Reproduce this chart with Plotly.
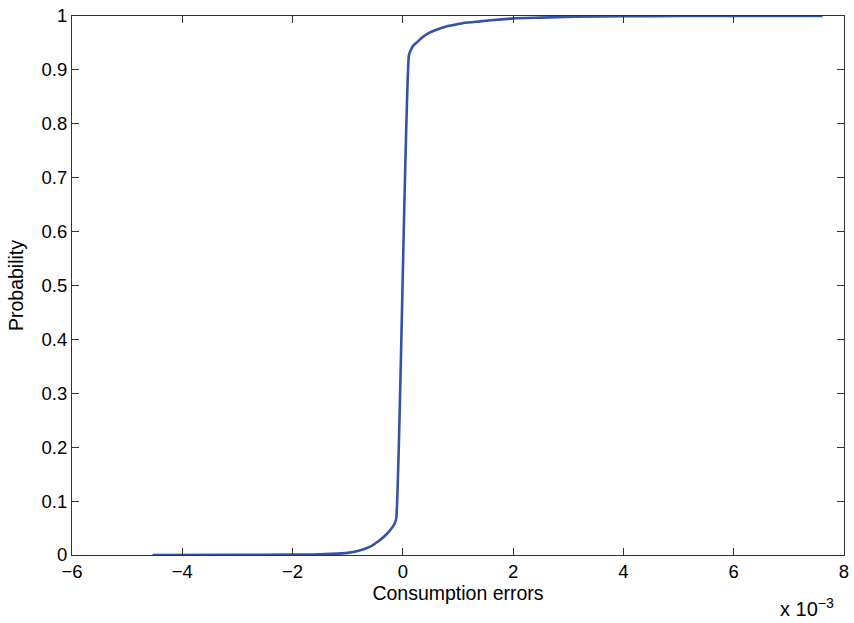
import plotly.graph_objects as go

# Consumption errors (in units of 1e-3) and cumulative probability
err = [-4.54, -3.0, -2.0, -1.5, -1.0, -0.8, -0.6, -0.45, -0.3, -0.2, -0.15, -0.12,
       0.11, 0.14, 0.19, 0.26, 0.36, 0.5, 0.65, 0.8, 0.95, 1.1, 1.4, 1.7, 2.0, 2.5,
       3.1, 4.0, 5.0, 7.61]
prob = [0.0, 0.0003, 0.0008, 0.0015, 0.004, 0.008, 0.015, 0.025, 0.038, 0.05, 0.058, 0.068,
        0.927, 0.936, 0.945, 0.9515, 0.961, 0.97, 0.976, 0.981, 0.984, 0.987, 0.99, 0.993,
        0.9956, 0.997, 0.9985, 0.9995, 1.0, 1.0]

xticks = [-6, -4, -2, 0, 2, 4, 6, 8]
yticks = [0, 0.1, 0.2, 0.3, 0.4, 0.5, 0.6, 0.7, 0.8, 0.9, 1]
ytext = ["0", "0.1", "0.2", "0.3", "0.4", "0.5", "0.6", "0.7", "0.8", "0.9", "1"]

fig = go.Figure()
fig.add_trace(go.Scatter(x=err, y=prob, mode="lines",
                         line=dict(color="#3352a8", width=2.6, shape="spline", smoothing=0.6),
                         showlegend=False))

tickfont = dict(family="Liberation Sans, Arial, sans-serif", size=18.5, color="#000")
titlefont = dict(family="Liberation Sans, Arial, sans-serif", size=19.5, color="#000")
axis_common = dict(showgrid=False, zeroline=False, showline=True, linecolor="#333",
                   linewidth=1, mirror="ticks", ticks="inside", ticklen=7,
                   tickcolor="#333", tickfont=tickfont)
fig.update_layout(
    width=854, height=623, plot_bgcolor="white", paper_bgcolor="white",
    margin=dict(l=72, r=5, t=11, b=68),
    xaxis=dict(range=[-6, 8], tickvals=xticks, ticktext=[str(v).replace("-", "−") for v in xticks],
               title=dict(text="Consumption errors", font=titlefont, standoff=2), **axis_common),
    yaxis=dict(range=[0, 1], tickvals=yticks, ticktext=ytext,
               title=dict(text="Probability", font=titlefont, standoff=12), **axis_common),
    font=tickfont,
)
fig.add_annotation(text="x 10<sup>−3</sup>", xref="paper", yref="paper", x=0.99, y=-0.07,
                   xanchor="right", yanchor="top", showarrow=False,
                   font=dict(family="Liberation Sans, Arial, sans-serif", size=20, color="#000"))
fig.write_html("out.html")
